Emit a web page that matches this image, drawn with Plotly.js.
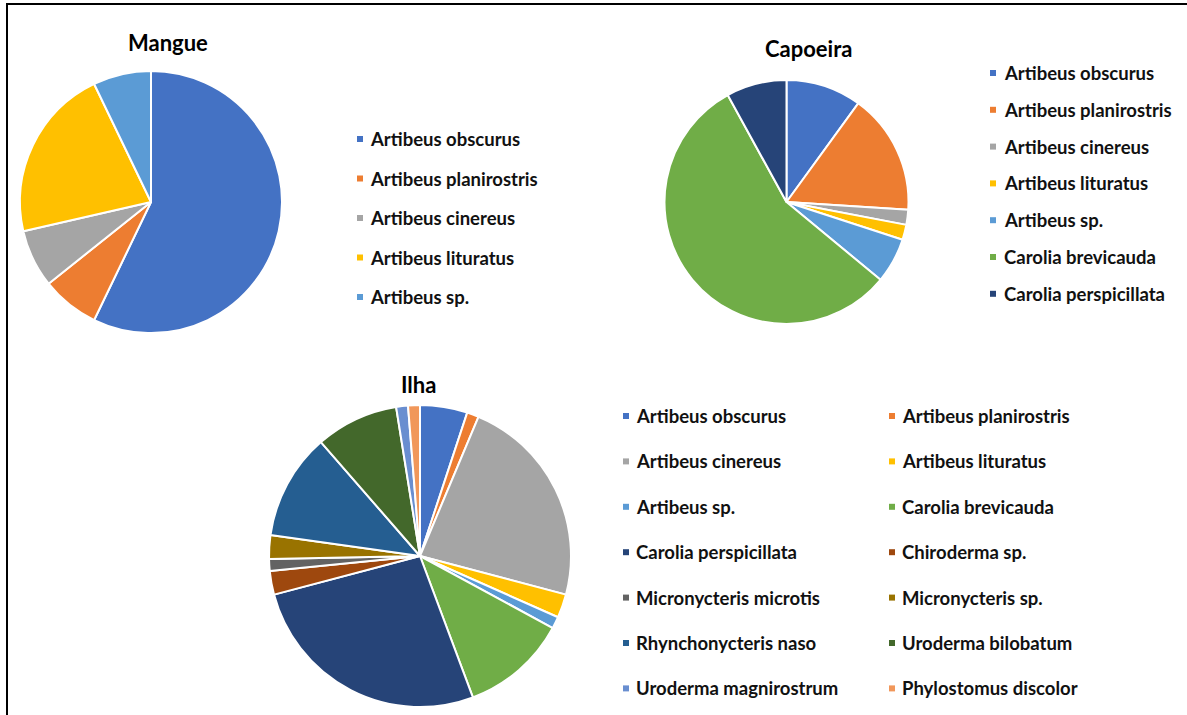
<!DOCTYPE html>
<html>
<head>
<meta charset="utf-8">
<script src="https://cdn.plot.ly/plotly-3.0.1.min.js"></script>
<style>html,body{margin:0;padding:0;background:#fff;}#chart{width:1187px;height:715px;}</style>
</head>
<body>
<div id="chart"></div>
<script>
// ---- Data ----
const mangueLabels = ["Artibeus obscurus", "Artibeus planirostris", "Artibeus cinereus", "Artibeus lituratus", "Artibeus sp."];
const mangueValues = [8, 1, 1, 3, 1];

const capoeiraLabels = ["Artibeus obscurus", "Artibeus planirostris", "Artibeus cinereus", "Artibeus lituratus", "Artibeus sp.", "Carolia brevicauda", "Carolia perspicillata"];
const capoeiraValues = [5, 8, 1, 1, 3, 28, 4];

const ilhaLabels = ["Artibeus obscurus", "Artibeus planirostris", "Artibeus cinereus", "Artibeus lituratus", "Artibeus sp.", "Carolia brevicauda", "Carolia perspicillata", "Chiroderma sp.", "Micronycteris microtis", "Micronycteris sp.", "Rhynchonycteris naso", "Uroderma bilobatum", "Uroderma magnirostrum", "Phylostomus discolor"];
const ilhaValues = [4, 1, 18, 2, 1, 9, 21, 2, 1, 2, 9, 7, 1, 1];

const palette = ["#4472C4", "#ED7D31", "#A5A5A5", "#FFC000", "#5B9BD5", "#70AD47", "#264478", "#9E480E", "#636363", "#997300", "#255E91", "#43682B", "#698ED0", "#F1975A"];

// ---- Layout helpers ----
const W = 1187, H = 715;
const px = x => x / W;
const py = y => 1 - y / H;
const FONT = "Lato, 'Open Sans', sans-serif";

function pieTrace(labels, values, cx, cy, r) {
  return {
    type: "pie",
    labels: labels,
    values: values,
    sort: false,
    direction: "clockwise",
    rotation: 0,
    textinfo: "none",
    hoverinfo: "label+value+percent",
    showlegend: false,
    marker: { colors: palette.slice(0, labels.length), line: { color: "#ffffff", width: 2 } },
    domain: { x: [px(cx - r), px(cx + r)], y: [py(cy + r), py(cy - r)] }
  };
}

const data = [
  pieTrace(mangueLabels, mangueValues, 151, 202, 131),
  pieTrace(capoeiraLabels, capoeiraValues, 786.5, 202, 122),
  pieTrace(ilhaLabels, ilhaValues, 420, 556, 151)
];

const annotations = [];
const shapes = [];

function title(text, x, y) {
  annotations.push({ text: "<b>" + text + "</b>", x: px(x), y: py(y), xref: "paper", yref: "paper",
    xanchor: "center", yanchor: "middle", showarrow: false, font: { family: FONT, size: 22, color: "#000" } });
}
title("Mangue", 168, 42);
title("Capoeira", 808, 48);
title("Ilha", 418, 384);

function legendItem(label, color, mx, tx, y) {
  shapes.push({ type: "rect", xref: "paper", yref: "paper", x0: px(mx), x1: px(mx + 6), y0: py(y + 3), y1: py(y - 3),
    fillcolor: color, line: { width: 0 } });
  annotations.push({ text: "<b>" + label + "</b>", x: px(tx), y: py(y), xref: "paper", yref: "paper",
    xanchor: "left", yanchor: "middle", showarrow: false, font: { family: FONT, size: 18.5, color: "#111" } });
}
mangueLabels.forEach((l, i) => legendItem(l, palette[i], 357, 368, 139 + i * 39.5));
capoeiraLabels.forEach((l, i) => legendItem(l, palette[i], 990, 1002, 73 + i * 36.8));
ilhaLabels.forEach((l, i) => {
  const col = i % 2, row = Math.floor(i / 2);
  legendItem(l, palette[i], col === 0 ? 623 : 889, col === 0 ? 634 : 900, 416 + row * 45.4);
});

// frame lines (left and top)
shapes.push({ type: "line", xref: "paper", yref: "paper", x0: px(7), x1: px(7), y0: 0, y1: py(3), line: { color: "#000", width: 2 } });
shapes.push({ type: "line", xref: "paper", yref: "paper", x0: px(6), x1: 1, y0: py(4), y1: py(4), line: { color: "#000", width: 2 } });

const layout = {
  width: W, height: H,
  margin: { l: 0, r: 0, t: 0, b: 0 },
  paper_bgcolor: "#ffffff",
  plot_bgcolor: "#ffffff",
  showlegend: false,
  annotations: annotations,
  shapes: shapes
};

Plotly.newPlot("chart", data, layout, { displayModeBar: false, staticPlot: false });
</script>
</body>
</html>
